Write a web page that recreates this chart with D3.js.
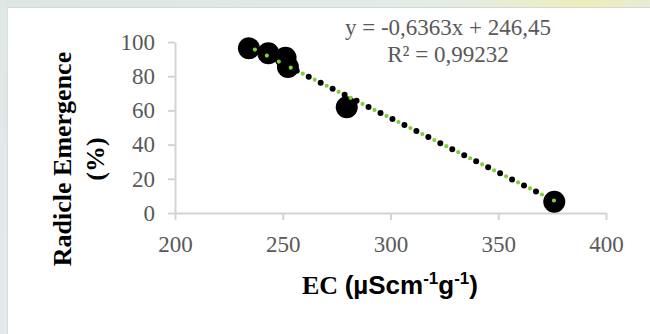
<!DOCTYPE html>
<html>
<head>
<meta charset="utf-8">
<script src="https://cdn.jsdelivr.net/npm/d3@7"></script>
<style>
  html, body { margin: 0; padding: 0; background: #fff; }
  svg { display: block; }
</style>
</head>
<body>
<div id="container"></div>
<script>
// values
const ecValues = [234.3, 243.3, 251.3, 252.4, 279.7, 376.0]
const emergenceValues = [96.3, 93.4, 90.8, 85.4, 61.8, 6.6]
const xTicks = [200, 250, 300, 350, 400]
const yTicks = [0, 20, 40, 60, 80, 100]
const slope = -0.6363
const intercept = 246.45
const equationLines = ['y = -0,6363x + 246,45', 'R² = 0,99232']

const points = ecValues.map((x, i) => ({ x, y: emergenceValues[i] }))

const config = {
    width: 650,
    height: 334,
    left: 175,
    right: 606,
    top: 42,
    bottom: 213,
}

const svg = d3.select('#container')
    .append('svg')
    .attr('width', config.width)
    .attr('height', config.height)

// textured page around the chart box
const defs = svg.append('defs')
const topGrad = defs.append('linearGradient').attr('id', 'topGrad')
topGrad.append('stop').attr('offset', '0%').attr('stop-color', '#dde6e3')
topGrad.append('stop').attr('offset', '70%').attr('stop-color', '#e4ece6')
topGrad.append('stop').attr('offset', '90%').attr('stop-color', '#eeeeb8')
topGrad.append('stop').attr('offset', '100%').attr('stop-color', '#e8ebd6')
const leftGrad = defs.append('linearGradient').attr('id', 'leftGrad')
    .attr('x1', 0).attr('y1', 0).attr('x2', 0).attr('y2', 1)
leftGrad.append('stop').attr('offset', '0%').attr('stop-color', '#dfe8e2')
leftGrad.append('stop').attr('offset', '50%').attr('stop-color', '#e3e8ec')
leftGrad.append('stop').attr('offset', '100%').attr('stop-color', '#e4e9ef')

svg.append('rect').attr('x', 0).attr('y', 0).attr('width', config.width).attr('height', 7)
    .attr('fill', 'url(#topGrad)')
svg.append('rect').attr('x', 0).attr('y', 0).attr('width', 7).attr('height', config.height)
    .attr('fill', 'url(#leftGrad)')
svg.append('rect').attr('x', 7).attr('y', 7).attr('width', config.width - 7).attr('height', config.height - 7)
    .attr('fill', 'white')
svg.append('line').attr('x1', 7).attr('x2', config.width).attr('y1', 7.5).attr('y2', 7.5)
    .attr('stroke', '#d3d8d8').attr('stroke-width', 1)
svg.append('line').attr('x1', 7.5).attr('x2', 7.5).attr('y1', 7).attr('y2', config.height)
    .attr('stroke', '#d8dcdc').attr('stroke-width', 1)

const xScale = d3.scaleLinear()
    .domain([200, 400])
    .range([config.left, config.right])

const yScale = d3.scaleLinear()
    .domain([0, 100])
    .range([config.bottom, config.top])

svg.append('g')
    .attr('class', 'x-axis')
    .attr('transform', `translate(0,${config.bottom})`)
    .call(d3.axisBottom(xScale)
        .tickValues(xTicks)
        .tickSize(7)
        .tickSizeOuter(0)
        .tickPadding(16))

svg.append('g')
    .attr('class', 'y-axis')
    .attr('transform', `translate(${config.left},0)`)
    .call(d3.axisLeft(yScale)
        .tickValues(yTicks)
        .tickSize(7)
        .tickSizeOuter(0)
        .tickPadding(13))

svg.selectAll('.x-axis path, .y-axis path, .x-axis .tick line, .y-axis .tick line')
    .attr('stroke', '#d4d4d4')
    .attr('stroke-width', 2)

svg.selectAll('.x-axis text, .y-axis text')
    .style('font-family', '"Liberation Serif", "Times New Roman", serif')
    .style('font-size', '23px')
    .attr('fill', '#595959')

// data points
svg.append('g')
    .selectAll('circle')
    .data(points)
    .join('circle')
    .attr('cx', d => xScale(d.x))
    .attr('cy', d => yScale(d.y))
    .attr('r', 11)
    .attr('fill', 'black')

// linear trendline, drawn as two dotted strokes
const xMin = d3.min(ecValues)
const xMax = d3.max(ecValues)
const trend = [xMin, xMax].map(x => [xScale(x), yScale(slope * x + intercept)])

svg.append('line')
    .attr('x1', trend[0][0]).attr('y1', trend[0][1])
    .attr('x2', trend[1][0]).attr('y2', trend[1][1])
    .attr('stroke', 'black')
    .attr('stroke-width', 6)
    .attr('stroke-linecap', 'round')
    .attr('stroke-dasharray', '0 13.4')

svg.append('line')
    .attr('x1', trend[0][0]).attr('y1', trend[0][1])
    .attr('x2', trend[1][0]).attr('y2', trend[1][1])
    .attr('stroke', '#7fd03a')
    .attr('stroke-width', 4.2)
    .attr('stroke-linecap', 'round')
    .attr('stroke-dasharray', '0 13.4')
    .attr('stroke-dashoffset', -6.7)

// equation label
svg.append('g')
    .selectAll('text')
    .data(equationLines)
    .join('text')
    .text(d => d)
    .attr('x', 448)
    .attr('y', (_, i) => 35 + 26.5 * i)
    .attr('text-anchor', 'middle')
    .style('font-family', '"Liberation Serif", "Times New Roman", serif')
    .style('font-size', '23px')
    .attr('fill', '#595959')

// y axis title
const yTitle = svg.append('text')
    .attr('transform', 'translate(71,159) rotate(-90)')
    .attr('text-anchor', 'middle')
    .style('font-family', '"Liberation Serif", "Times New Roman", serif')
    .style('font-size', '26px')
    .style('font-weight', 'bold')
    .attr('fill', 'black')
yTitle.append('tspan').attr('x', 0).attr('y', 0).text('Radicle Emergence')
yTitle.append('tspan').attr('x', 0).attr('y', 33).text('(%)')

// x axis title
const xTitle = svg.append('text')
    .attr('x', 390)
    .attr('y', 294)
    .attr('text-anchor', 'middle')
    .style('font-weight', 'bold')
    .style('font-size', '26px')
    .attr('fill', 'black')
const sans = '"Liberation Sans", Arial, sans-serif'
xTitle.append('tspan').style('font-family', '"Liberation Serif", "Times New Roman", serif').text('EC ')
xTitle.append('tspan').style('font-family', sans).text('(µScm')
xTitle.append('tspan').style('font-family', sans).style('font-size', '17px').attr('dy', -10).text('-1')
xTitle.append('tspan').style('font-family', sans).attr('dy', 10).text('g')
xTitle.append('tspan').style('font-family', sans).style('font-size', '17px').attr('dy', -10).text('-1')
xTitle.append('tspan').style('font-family', sans).attr('dy', 10).text(')')
</script>
</body>
</html>
